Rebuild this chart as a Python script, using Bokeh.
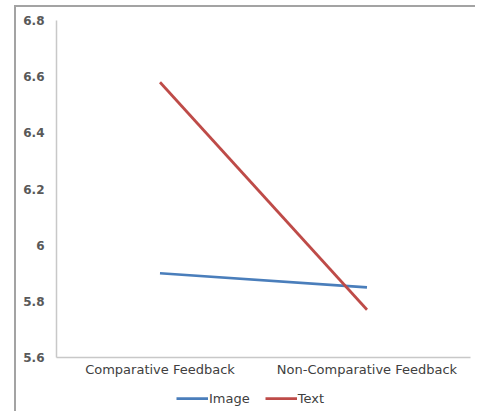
from bokeh.plotting import figure
from bokeh.layouts import column
from bokeh.models import FactorRange, Range1d, FixedTicker, Legend, LegendItem
from bokeh.embed import file_html
from bokeh.resources import INLINE

categories = ["Comparative Feedback", "Non-Comparative Feedback"]
image_values = [5.90, 5.85]
text_values = [6.58, 5.77]
series_names = ["Image", "Text"]
y_ticks = [5.6, 5.8, 6.0, 6.2, 6.4, 6.6, 6.8]
y_tick_labels = ["5.6", "5.8", "6", "6.2", "6.4", "6.6", "6.8"]

FONT = "DejaVu Sans"
BLUE = "#4a7ebb"
RED = "#be4b48"

p = figure(width=459, height=372, x_range=FactorRange(*categories),
           y_range=Range1d(5.6, 6.8), output_backend="svg", toolbar_location=None,
           min_border_left=40, min_border_top=13, min_border_right=5, min_border_bottom=20)
p.outline_line_color = None
p.grid.grid_line_color = None
p.x_range.range_padding = 0

p.yaxis.ticker = FixedTicker(ticks=y_ticks)
p.yaxis.major_label_overrides = dict(zip(y_ticks, y_tick_labels))
p.yaxis.major_label_text_font = FONT
p.yaxis.major_label_text_font_size = "12px"
p.yaxis.major_label_text_font_style = "bold"
p.yaxis.major_label_text_color = "#595959"
p.yaxis.major_label_standoff = 12
p.xaxis.major_label_text_font = FONT
p.xaxis.major_label_text_font_size = "13px"
p.xaxis.major_label_text_color = "#404040"
p.xaxis.major_label_standoff = 4
for ax in (p.xaxis, p.yaxis):
    ax.axis_line_color = "#c8c8c8"
    ax.axis_line_width = 1.5
    ax.major_tick_line_color = None
    ax.minor_tick_line_color = None
    ax.major_tick_out = 0
    ax.major_tick_in = 0
    ax.minor_tick_out = 0

p.line(categories, image_values, line_color=BLUE, line_width=2.75)
p.line(categories, text_values, line_color=RED, line_width=2.75)

# legend strip below the chart (its lines lie outside its visible y-range)
lg = figure(width=459, height=32, x_range=FactorRange(*categories), y_range=Range1d(0, 1),
            output_backend="svg", toolbar_location=None,
            min_border_left=0, min_border_right=0, min_border_top=0, min_border_bottom=0)
lg.axis.visible = False
lg.grid.grid_line_color = None
lg.outline_line_color = None
q1 = lg.line(categories, image_values, line_color=BLUE, line_width=2.75)
q2 = lg.line(categories, text_values, line_color=RED, line_width=2.75)
legend = Legend(items=[LegendItem(label=series_names[0], renderers=[q1]),
                       LegendItem(label=series_names[1], renderers=[q2])],
                orientation="horizontal", location=(120, 3),
                label_text_font=FONT, label_text_font_size="13px", label_text_color="#404040",
                glyph_width=32, label_standoff=1, spacing=15, border_line_color=None,
                background_fill_alpha=0, margin=0, padding=2)
lg.add_layout(legend)

layout = column(p, lg)
layout.margin = (5, 0, 0, 14)
layout.styles = {"border-left": "2px solid #a3a3a3", "border-top": "2px solid #a3a3a3"}

open("out.html", "w").write(file_html(layout, INLINE))
